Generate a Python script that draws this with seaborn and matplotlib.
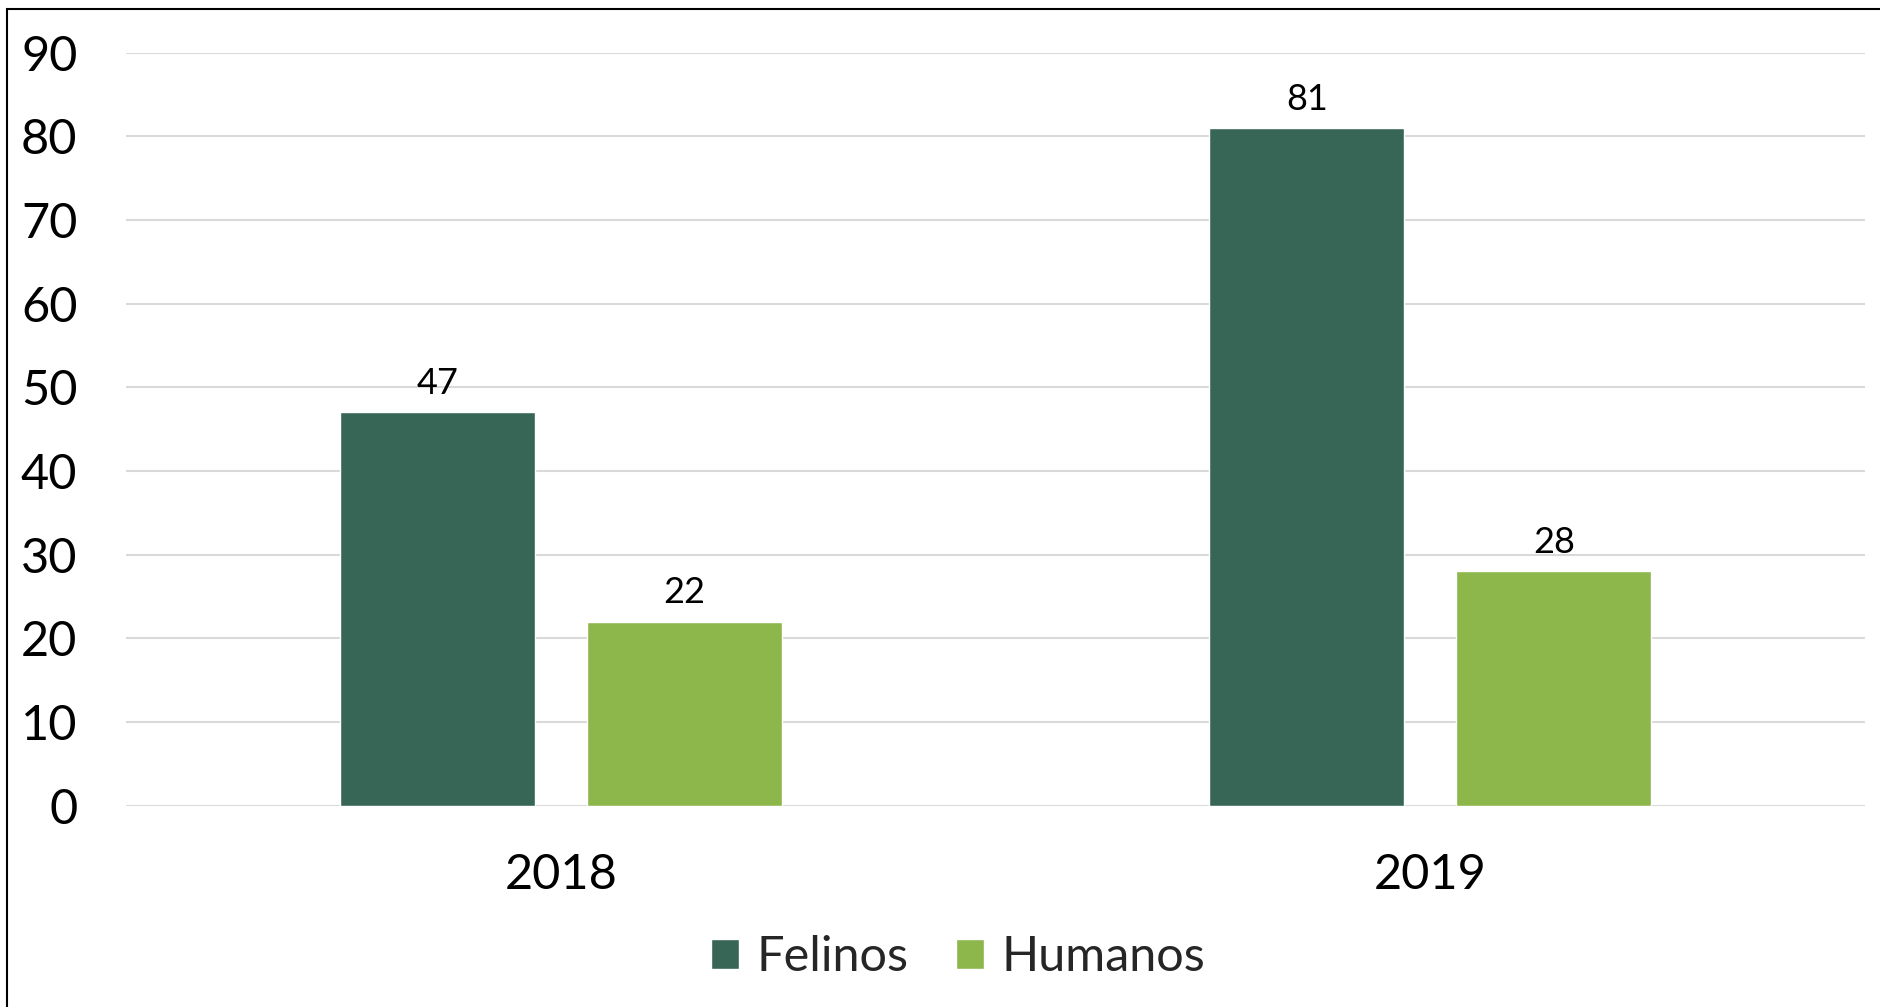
import pandas as pd
import matplotlib.pyplot as plt
import seaborn as sns
from matplotlib.patches import Rectangle

# values
years = ['2018', '2019']
felinos = [47, 81]
humanos = [22, 28]
series_names = ['Felinos', 'Humanos']
y_ticks = [0, 10, 20, 30, 40, 50, 60, 70, 80, 90]

df = pd.DataFrame({
    'Year': years * 2,
    'Grupo': [series_names[0]] * len(years) + [series_names[1]] * len(years),
    'Casos': felinos + humanos,
})

sns.set_style('white')
plt.rcParams['font.family'] = ['Lato', 'DejaVu Sans']

colors = {'Felinos': '#376657', 'Humanos': '#8db64b'}

fig = plt.figure(figsize=(18.8, 10.07), dpi=100)
ax = fig.add_axes([126 / 1880, 201.3 / 1007, (1865 - 126) / 1880, (805.7 - 52.7) / 1007])

sns.barplot(data=df, x='Year', y='Casos', hue='Grupo', palette=colors,
            saturation=1, width=0.568, gap=0.21, ax=ax, zorder=3)

for cont in ax.containers:
    ax.bar_label(cont, fontsize=26, padding=9, color='black')

ax.set_ylim(0, 90)
ax.set_yticks(y_ticks)
ax.set_xlim(-0.5, 1.5)
ax.grid(axis='y', color='#d9d9d9', linewidth=1.5, zorder=0)
ax.set_axisbelow(True)
for s in ax.spines.values():
    s.set_visible(False)
ax.tick_params(axis='y', length=0, pad=35, labelsize=35, labelcolor='black')
ax.tick_params(axis='x', length=0, pad=34, labelsize=35, labelcolor='black')
ax.set_xlabel('')
ax.set_ylabel('')

handles, labels = ax.get_legend_handles_labels()
ax.get_legend().remove()
fig.legend(handles, labels, loc='center', bbox_to_anchor=(958 / 1880, 1 - 957 / 1007),
           ncol=2, frameon=False, fontsize=35, handlelength=0.57,
           handleheight=0.57, handletextpad=0.36, columnspacing=0.98)

# outer frame, only top and left edges fall inside the picture
fig.patches.append(Rectangle((7.5 / 1880, -0.05), 1.1, 1 - 9 / 1007 + 0.05,
                             transform=fig.transFigure, fill=False,
                             edgecolor='black', linewidth=1.5))

fig.savefig('out.png', dpi=100)
